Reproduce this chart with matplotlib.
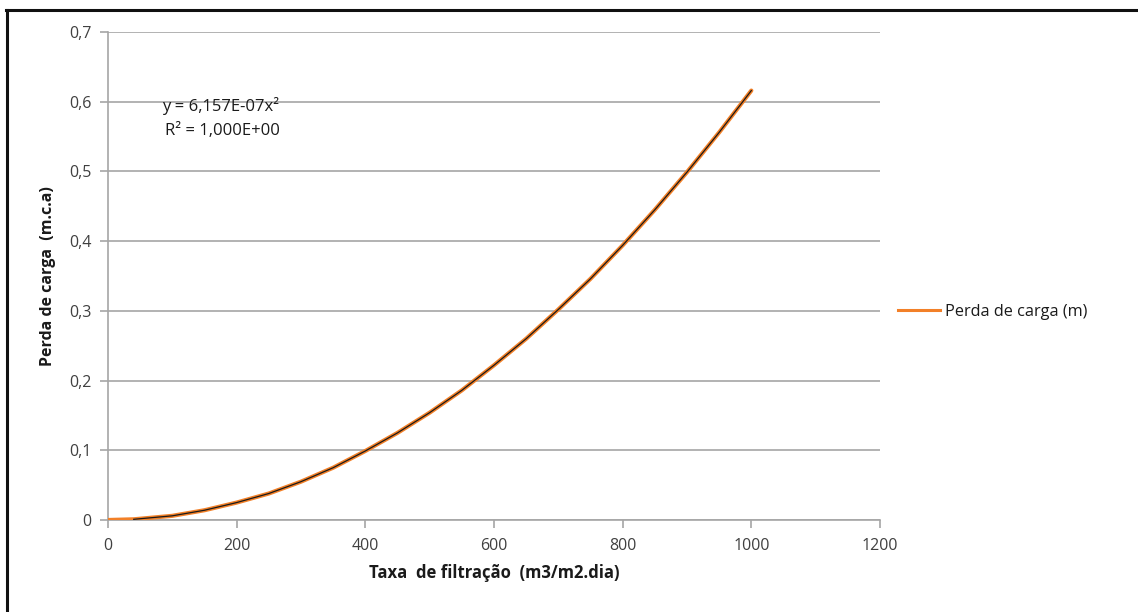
import numpy as np
import matplotlib.pyplot as plt
from matplotlib.lines import Line2D

plt.rcParams['font.family'] = ['Open Sans', 'DejaVu Sans']

# valores
taxa = [0, 40, 100, 150, 200, 250, 300, 350, 400, 450, 500,
        550, 600, 650, 700, 750, 800, 850, 900, 950, 1000]
perda = [0.0, 0.001, 0.006, 0.014, 0.025, 0.038, 0.055, 0.075, 0.099, 0.125, 0.154,
         0.186, 0.222, 0.260, 0.302, 0.346, 0.394, 0.445, 0.499, 0.556, 0.616]
yticks = [0, 0.1, 0.2, 0.3, 0.4, 0.5, 0.6, 0.7]
ylabels = ['0', '0,1', '0,2', '0,3', '0,4', '0,5', '0,6', '0,7']
xticks = [0, 200, 400, 600, 800, 1000, 1200]

W, H = 1138, 612
fig = plt.figure(figsize=(W/100, H/100), dpi=100)
ax = fig.add_axes([108/W, 1-520/H, (880-108)/W, (520-32)/H])

cinza = '#a6a6a6'
laranja = '#f28028'
ax.plot(taxa, perda, color=laranja, lw=3.0, label='Perda de carga (m)', zorder=3, solid_capstyle='round')
# linha de tendencia
ax.plot(taxa[1:], perda[1:], color='#1a1a1a', lw=0.9, zorder=4)

ax.set_xlim(0, 1200)
ax.set_ylim(0, 0.7)
ax.set_xticks(xticks)
ax.set_xticklabels([str(v) for v in xticks])
ax.set_yticks(yticks)
ax.set_yticklabels(ylabels)
ax.grid(axis='y', color=cinza, lw=1.2)
ax.set_axisbelow(True)
for s in ['top', 'right']:
    ax.spines[s].set_visible(False)
for s in ['left', 'bottom']:
    ax.spines[s].set_color(cinza)
    ax.spines[s].set_linewidth(1.2)
ax.tick_params(axis='both', colors=cinza, length=6, width=1.2, labelcolor='#404040', labelsize=11.5)
ax.tick_params(axis='x', pad=7)
ax.tick_params(axis='y', pad=6)

ax.set_xlabel('Taxa  de filtração  (m3/m2.dia)', fontsize=12, fontweight='bold', color='#1a1a1a', labelpad=7)
ax.set_ylabel('Perda de carga  (m.c.a)', fontsize=11.5, fontweight='bold', color='#1a1a1a', labelpad=9)

ax.text(162/W, 1-106/H, 'y = 6,157E-07x²', transform=fig.transFigure, fontsize=12,
        color='#1a1a1a', va='center')
ax.text(165/W, 1-131/H, 'R² = 1,000E+00', transform=fig.transFigure, fontsize=12,
        color='#1a1a1a', va='center')

ax.legend(handles=[Line2D([0], [0], color=laranja, lw=2.2)], labels=['Perda de carga (m)'],
          loc='center left', bbox_to_anchor=(883/W, 1-312/H), bbox_transform=fig.transFigure,
          frameon=False, fontsize=11.7, handlelength=2.6, handletextpad=0.3, labelcolor='#1a1a1a')

# moldura
fig.add_artist(Line2D([6/W, 1], [1-9.5/H, 1-9.5/H], color='#111111', lw=2.2, transform=fig.transFigure))
fig.add_artist(Line2D([6.5/W, 6.5/W], [0, 1-9.5/H], color='#111111', lw=2.2, transform=fig.transFigure))

fig.savefig('out.png', dpi=100)
